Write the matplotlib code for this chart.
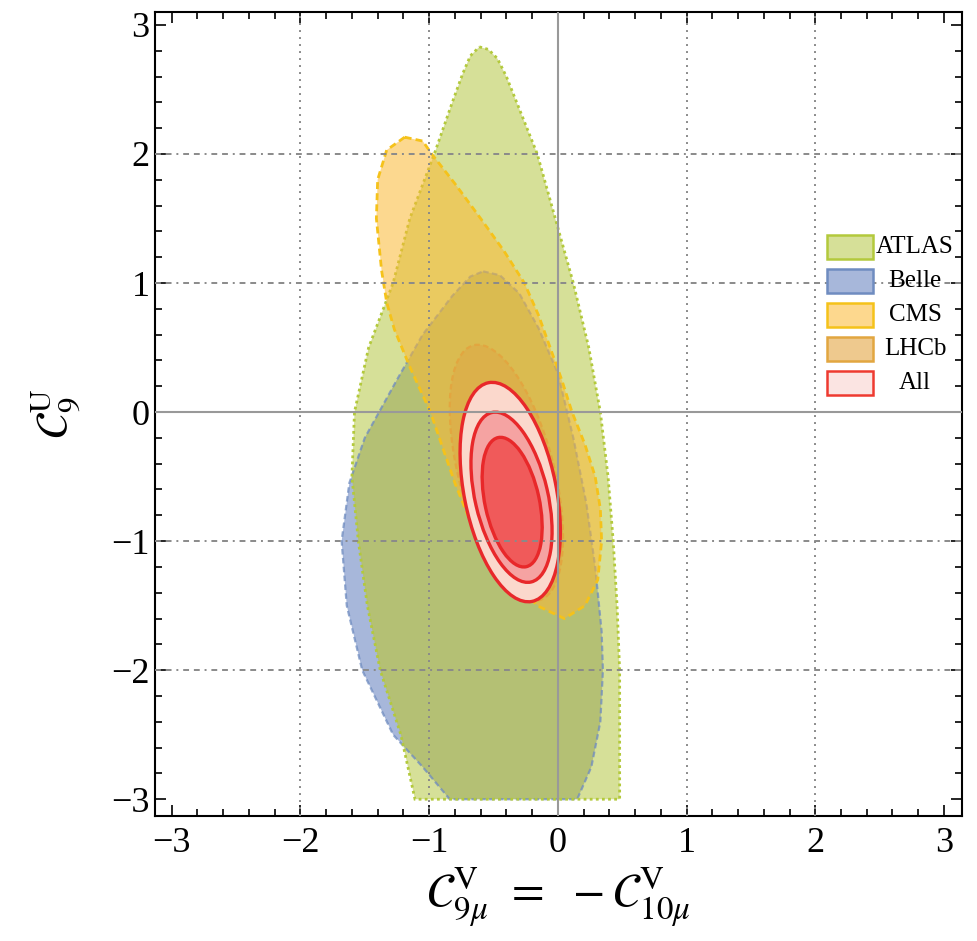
import matplotlib
matplotlib.use("Agg")
import matplotlib.pyplot as plt
from matplotlib.patches import Polygon, Ellipse, Rectangle
from matplotlib.ticker import MultipleLocator

plt.rcParams['font.family'] = ['Liberation Serif', 'DejaVu Serif']
plt.rcParams['mathtext.fontset'] = 'stix'

# ---- allowed regions in the (C9V_mu = -C10V_mu, C9U) plane ----
# ATLAS region boundary (clockwise from the top)
atlas_x = [-0.61, -0.54, -0.47, -0.40, -0.28, -0.16, -0.02, 0.12, 0.24, 0.33, 0.39, 0.43,
           0.46, 0.48, 0.48, 0.48, -1.11, -1.22, -1.38, -1.48, -1.55, -1.60, -1.58,
           -1.47, -1.28, -1.15, -0.96, -0.82, -0.74, -0.68]
atlas_y = [2.83, 2.81, 2.74, 2.60, 2.30, 2.00, 1.50, 1.00, 0.50, 0.00, -0.50, -1.00,
           -1.50, -2.00, -2.50, -3.00, -3.00, -2.50, -2.00, -1.50, -1.00, -0.50, 0.00,
           0.50, 1.00, 1.50, 2.00, 2.40, 2.62, 2.76]

# Belle region boundary
belle_x = [-0.58, -0.45, -0.30, -0.15, 0.00, 0.12, 0.22, 0.29, 0.34, 0.35, 0.33, 0.26,
           0.15, -0.84, -1.05, -1.28, -1.52, -1.64, -1.68, -1.62, -1.50, -1.25, -1.05,
           -0.82, -0.68]
belle_y = [1.09, 1.06, 0.92, 0.65, 0.30, -0.20, -0.70, -1.20, -1.70, -2.00, -2.40, -2.75,
           -3.00, -3.00, -2.75, -2.50, -2.00, -1.50, -1.00, -0.55, -0.20, 0.25, 0.60,
           0.90, 1.05]

# CMS region boundary
cms_x = [-1.19, -1.05, -0.98, -0.80, -0.60, -0.42, -0.26, -0.15, -0.06, 0.03, 0.11, 0.21,
         0.29, 0.33, 0.34, 0.31, 0.21, 0.05, -0.14, -0.40, -0.61, -0.80, -0.99, -1.15,
         -1.27, -1.33, -1.37, -1.41, -1.40, -1.33]
cms_y = [2.13, 2.10, 2.00, 1.77, 1.50, 1.25, 1.00, 0.75, 0.50, 0.25, 0.00, -0.25,
         -0.50, -0.75, -1.00, -1.30, -1.50, -1.60, -1.51, -1.30, -1.02, -0.55, 0.00, 0.35,
         0.64, 0.85, 1.10, 1.50, 1.80, 2.03]

# LHCb ellipse: centre, semi-axes, orientation (deg)
lhcb_center = (-0.40, -0.47)
lhcb_axes = (1.02, 0.37)
lhcb_angle = 104.5

# Combined fit: 3, 2, 1 sigma ellipses (outermost first)
all_cx = [-0.37, -0.36, -0.355]
all_cy = [-0.62, -0.66, -0.698]
all_a = [0.864, 0.674, 0.512]
all_b = [0.358, 0.283, 0.211]
all_angle = [101.3, 103.1, 102.3]
all_fill = ['#fbd8cc', '#f5a3a2', '#f05a5a']

legend_labels = ['ATLAS', 'Belle', 'CMS', 'LHCb', 'All']

W, H = 977, 941
fig = plt.figure(figsize=(W / 100, H / 100), dpi=100)
ax = fig.add_axes([155 / W, 1 - 816 / H, (962 - 155) / W, (816 - 12) / H])
ax.set_xlim(-3.13, 3.14)
ax.set_ylim(-3.13, 3.10)

atlas_face, atlas_edge = '#d6e098', '#b3c93c'
belle_face, belle_edge = '#a7b7da', '#6f8cc0'
overlap_face = '#b4c074'
cms_face, cms_edge = (0.985, 0.72, 0.20, 0.55), '#f5c21a'
lhcb_face, lhcb_edge = (0.88, 0.62, 0.25, 0.35), '#e2a640'
all_edge = '#e8282a'

atlas_pts = list(zip(atlas_x, atlas_y))
belle_pts = list(zip(belle_x, belle_y))

atlas_fill = Polygon(atlas_pts, closed=True, facecolor=atlas_face, edgecolor='none', zorder=1)
ax.add_patch(atlas_fill)
ax.add_patch(Polygon(belle_pts, closed=True, facecolor=belle_face, edgecolor='none', zorder=1.1))
both = Polygon(belle_pts, closed=True, facecolor=overlap_face, edgecolor='none', zorder=1.2)
ax.add_patch(both)
both.set_clip_path(atlas_fill)
ax.add_patch(Polygon(belle_pts, closed=True, facecolor='none', edgecolor=belle_edge,
                     lw=1.6, ls=(0, (2.5, 1.5)), alpha=0.75, zorder=1.3))
ax.add_patch(Polygon(atlas_pts, closed=True, facecolor='none', edgecolor=atlas_edge,
                     lw=2.0, ls=(0, (1, 1.2)), zorder=1.4))
ax.add_patch(Polygon(list(zip(cms_x, cms_y)), closed=True, facecolor=cms_face,
                     edgecolor=cms_edge, lw=2.0, ls=(0, (2.5, 1.5)), zorder=2))
ax.add_patch(Ellipse(lhcb_center, 2 * lhcb_axes[0], 2 * lhcb_axes[1], angle=lhcb_angle,
                     facecolor=lhcb_face, edgecolor=lhcb_edge, lw=1.6, ls=(0, (2.5, 1.5)),
                     zorder=3))
for cx, cy, a, b, ang, fc in zip(all_cx, all_cy, all_a, all_b, all_angle, all_fill):
    ax.add_patch(Ellipse((cx, cy), 2 * a, 2 * b, angle=ang, facecolor=fc,
                         edgecolor=all_edge, lw=2.4, zorder=4))

# grid and coordinate axes
for v in [-2, -1, 1, 2]:
    ax.axvline(v, color='#8a8a8a', lw=1.4, ls=(0, (1, 2.6)), zorder=5)
    ax.axhline(v, color='#8a8a8a', lw=1.4, ls=(0, (3, 2.5, 3, 2.5, 1, 2.5)), zorder=5)
ax.axvline(0, color='#999999', lw=1.5, zorder=5)
ax.axhline(0, color='#999999', lw=1.5, zorder=5)

ax.xaxis.set_major_locator(MultipleLocator(1))
ax.yaxis.set_major_locator(MultipleLocator(1))
ax.xaxis.set_minor_locator(MultipleLocator(0.2))
ax.yaxis.set_minor_locator(MultipleLocator(0.2))
ax.tick_params(which='both', direction='in', top=True, right=True, width=1.2, labelsize=26)
ax.tick_params(which='major', length=8)
ax.tick_params(which='minor', length=5)
ax.tick_params(axis='x', pad=8)
ax.tick_params(axis='y', pad=4)
for s in ax.spines.values():
    s.set_linewidth(1.5)
ax.set_xticks([-3, -2, -1, 0, 1, 2, 3])
ax.set_xticklabels(['\u22123', '\u22122', '\u22121', '0', '1', '2', '3'])
ax.set_yticks([-3, -2, -1, 0, 1, 2, 3])
ax.set_yticklabels(['\u22123', '\u22122', '\u22121', '0', '1', '2', '3'])

ax.set_xlabel(r'$\mathcal{C}_{9\mu}^{\rm V}\;\,=\;\,-\mathcal{C}_{10\mu}^{\rm V}$',
              fontsize=34, labelpad=4)
ax.set_ylabel(r'$\mathcal{C}_{9}^{\rm U}$', fontsize=32, labelpad=20)

# legend
faces = [atlas_face, belle_face, '#fdd88e', '#eec98e', '#fbe4e2']
edges = [atlas_edge, belle_edge, cms_edge, lhcb_edge, '#ee3a30']
for i, (lab, fc, ec) in enumerate(zip(legend_labels, faces, edges)):
    yc = 247 + 34 * i
    fig.add_artist(Rectangle((827 / W, 1 - (yc + 12) / H), 46 / W, 24 / H,
                             transform=fig.transFigure, facecolor=fc, edgecolor=ec, lw=1.8,
                             zorder=10))
    fig.text(915 / W, 1 - yc / H, lab, ha='center', va='center', fontsize=18, zorder=10)

fig.savefig('out.png', dpi=100)
